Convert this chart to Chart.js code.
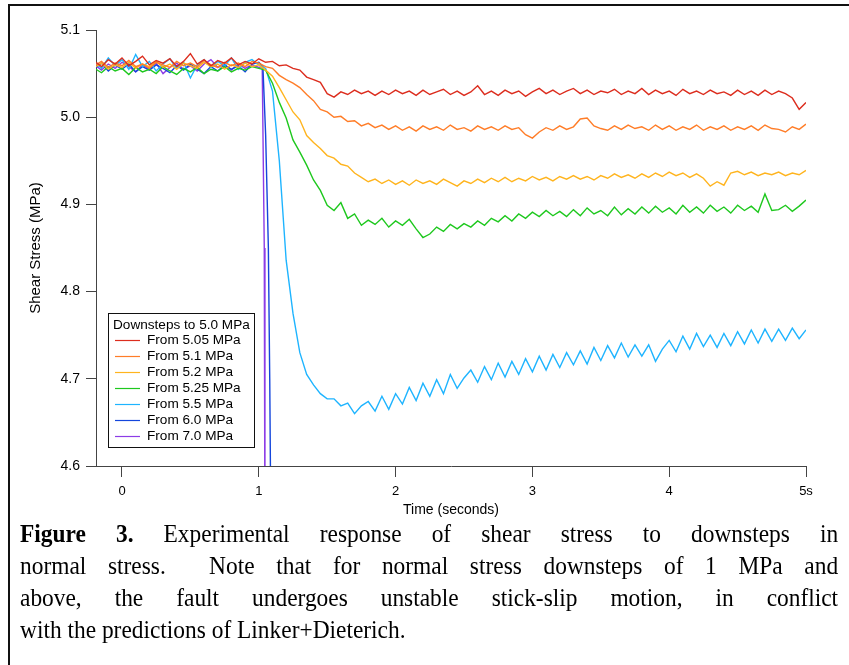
<!DOCTYPE html>
<html>
<head>
<meta charset="utf-8">
<script src="https://cdn.jsdelivr.net/npm/chart.js@4.4.1/dist/chart.umd.min.js"></script>
<style>
  body { margin: 0; background: #fff; width: 849px; height: 665px; overflow: hidden; position: relative; }
  .frame { position: absolute; left: 8px; top: 4px; width: 1000px; height: 1000px;
    border-left: 2px solid #111; border-top: 2px solid #111; }
  #myChart { position: absolute; left: 0; top: 0; }
  .caption { position: absolute; left: 20px; top: 518px; width: 909px;
    transform: scaleX(0.9); transform-origin: 0 0;
    font-family: "Liberation Serif", "Times New Roman", serif; font-size: 26px;
    line-height: 32px; color: #000; }
  .caption div { white-space: nowrap; text-align: justify; text-align-last: justify; }
  .caption div.last { text-align: left; text-align-last: left; }
</style>
</head>
<body>
<div class="frame"></div>
<canvas id="myChart" width="849" height="520"></canvas>
<div class="caption">
  <div><b>Figure 3.</b> Experimental response of shear stress to downsteps in</div>
  <div>normal stress.&nbsp; Note that for normal stress downsteps of 1 MPa and</div>
  <div>above, the fault undergoes unstable stick-slip motion, in conflict</div>
  <div class="last">with the predictions of Linker+Dieterich.</div>
</div>
<script>
// sample times (seconds)
const times = [
  -0.19, -0.15, -0.10, -0.05, 0.00, 0.05, 0.10, 0.15, 0.20, 0.25,
  0.30, 0.35, 0.40, 0.45, 0.50, 0.55, 0.60, 0.65, 0.70, 0.75,
  0.80, 0.85, 0.90, 0.95, 1.00, 1.05, 1.10, 1.15, 1.20, 1.25,
  1.30, 1.35, 1.40, 1.45, 1.50, 1.55, 1.60, 1.65, 1.70, 1.75,
  1.80, 1.85, 1.90, 1.95, 2.00, 2.05, 2.10, 2.15, 2.20, 2.25,
  2.30, 2.35, 2.40, 2.45, 2.50, 2.55, 2.60, 2.65, 2.70, 2.75,
  2.80, 2.85, 2.90, 2.95, 3.00, 3.05, 3.10, 3.15, 3.20, 3.25,
  3.30, 3.35, 3.40, 3.45, 3.50, 3.55, 3.60, 3.65, 3.70, 3.75,
  3.80, 3.85, 3.90, 3.95, 4.00, 4.05, 4.10, 4.15, 4.20, 4.25,
  4.30, 4.35, 4.40, 4.45, 4.50, 4.55, 4.60, 4.65, 4.70, 4.75,
  4.80, 4.85, 4.90, 4.95, 5.00
];

// shear stress (MPa)
const from505 = [
  5.063, 5.058, 5.066, 5.061, 5.068, 5.059, 5.064, 5.070, 5.060, 5.065,
  5.062, 5.067, 5.058, 5.064, 5.073, 5.061, 5.066, 5.059, 5.065, 5.062,
  5.068, 5.060, 5.064, 5.061, 5.067, 5.063, 5.064, 5.059, 5.060, 5.056,
  5.054, 5.046, 5.043, 5.040, 5.027, 5.023, 5.029, 5.026, 5.031, 5.027,
  5.030, 5.025, 5.030, 5.026, 5.031, 5.027, 5.030, 5.025, 5.031, 5.026,
  5.029, 5.032, 5.026, 5.030, 5.025, 5.029, 5.036, 5.026, 5.030, 5.025,
  5.031, 5.027, 5.030, 5.024, 5.029, 5.033, 5.027, 5.031, 5.026, 5.030,
  5.033, 5.027, 5.031, 5.026, 5.030, 5.028, 5.032, 5.026, 5.030, 5.027,
  5.033, 5.026, 5.031, 5.027, 5.030, 5.025, 5.032, 5.027, 5.030, 5.026,
  5.031, 5.027, 5.029, 5.025, 5.031, 5.026, 5.030, 5.025, 5.031, 5.026,
  5.030, 5.027, 5.022, 5.009, 5.017
];
const from51 = [
  5.060, 5.064, 5.057, 5.062, 5.059, 5.065, 5.058, 5.061, 5.056, 5.063,
  5.060, 5.057, 5.064, 5.059, 5.062, 5.058, 5.065, 5.060, 5.057, 5.063,
  5.059, 5.062, 5.058, 5.064, 5.062, 5.058, 5.056, 5.048, 5.043, 5.039,
  5.034, 5.026, 5.019, 5.009, 5.006, 5.000, 5.001, 4.995, 4.996, 4.990,
  4.993, 4.988, 4.991, 4.986, 4.990, 4.985, 4.989, 4.984, 4.990, 4.986,
  4.989, 4.985, 4.991, 4.986, 4.988, 4.984, 4.990, 4.986, 4.989, 4.985,
  4.990, 4.986, 4.988, 4.980, 4.976, 4.983, 4.988, 4.985, 4.990, 4.986,
  4.989, 4.998, 4.999, 4.990, 4.987, 4.985, 4.990, 4.986, 4.991, 4.987,
  4.989, 4.985, 4.991, 4.986, 4.990, 4.985, 4.989, 4.986, 4.991, 4.985,
  4.989, 4.986, 4.990, 4.985, 4.989, 4.986, 4.990, 4.985, 4.991, 4.987,
  4.986, 4.983, 4.989, 4.986, 4.992
];
const from52 = [
  5.058, 5.062, 5.055, 5.060, 5.057, 5.063, 5.056, 5.061, 5.058, 5.064,
  5.057, 5.061, 5.055, 5.062, 5.059, 5.056, 5.063, 5.058, 5.061, 5.055,
  5.060, 5.057, 5.062, 5.058, 5.060, 5.054, 5.047, 5.034, 5.020, 5.006,
  4.997, 4.979, 4.971, 4.964, 4.956, 4.953, 4.946, 4.944, 4.936, 4.931,
  4.926, 4.929, 4.924, 4.928, 4.923, 4.927, 4.922, 4.928, 4.924, 4.927,
  4.923, 4.929, 4.925, 4.921, 4.927, 4.924, 4.929, 4.925, 4.930, 4.926,
  4.931, 4.926, 4.930, 4.927, 4.932, 4.928, 4.931, 4.927, 4.932, 4.929,
  4.933, 4.929, 4.932, 4.928, 4.933, 4.930, 4.935, 4.931, 4.934, 4.930,
  4.935, 4.931, 4.936, 4.932, 4.937, 4.933, 4.936, 4.931, 4.935, 4.930,
  4.921, 4.926, 4.922, 4.936, 4.938, 4.934, 4.937, 4.933, 4.936, 4.934,
  4.937, 4.933, 4.936, 4.934, 4.939
];
const from525 = [
  5.055, 5.051, 5.058, 5.053, 5.056, 5.049, 5.057, 5.052, 5.055, 5.050,
  5.058, 5.053, 5.049, 5.056, 5.052, 5.057, 5.050, 5.055, 5.053, 5.058,
  5.052, 5.056, 5.054, 5.058, 5.056, 5.054, 5.039, 5.017, 4.999, 4.974,
  4.960, 4.945, 4.928, 4.916, 4.899, 4.893, 4.902, 4.884, 4.889, 4.876,
  4.882, 4.877, 4.884, 4.874, 4.881, 4.876, 4.883, 4.872, 4.862, 4.866,
  4.874, 4.869, 4.877, 4.872, 4.878, 4.874, 4.881, 4.876, 4.884, 4.880,
  4.887, 4.881, 4.889, 4.884, 4.891, 4.886, 4.893, 4.887, 4.892, 4.886,
  4.894, 4.887, 4.896, 4.889, 4.893, 4.887, 4.897, 4.888, 4.895, 4.889,
  4.897, 4.890, 4.898, 4.891, 4.896, 4.889, 4.899, 4.891, 4.897, 4.890,
  4.899, 4.892, 4.897, 4.890, 4.899, 4.893, 4.898, 4.891, 4.912, 4.893,
  4.894, 4.899, 4.892, 4.898, 4.905
];
const from55 = [
  5.062, 5.056, 5.068, 5.059, 5.066, 5.055, 5.072, 5.058, 5.064, 5.053,
  5.061, 5.067, 5.056, 5.063, 5.045, 5.060, 5.066, 5.057, 5.064, 5.059,
  5.068, 5.055, 5.063, 5.066, 5.060, 5.056, 5.030, 4.950, 4.836, 4.775,
  4.730, 4.705, 4.693, 4.683, 4.677, 4.677, 4.669, 4.672, 4.660, 4.669,
  4.674, 4.663, 4.680, 4.665, 4.683, 4.671, 4.690, 4.675, 4.695, 4.680,
  4.699, 4.683, 4.705, 4.689, 4.701, 4.710, 4.696, 4.714, 4.699, 4.718,
  4.702, 4.720, 4.705, 4.723, 4.708, 4.726, 4.710, 4.728, 4.713, 4.730,
  4.716, 4.732, 4.717, 4.736, 4.721, 4.738, 4.724, 4.741, 4.725, 4.739,
  4.726, 4.739, 4.720, 4.734, 4.744, 4.731, 4.749, 4.734, 4.752, 4.737,
  4.750, 4.736, 4.752, 4.738, 4.754, 4.740, 4.756, 4.741, 4.757, 4.743,
  4.757, 4.744, 4.758, 4.746, 4.756
];
// the two big downsteps slip off the bottom of the plot just after 1 s
const from60 = [
  5.057, 5.062, 5.053, 5.060, 5.055, 5.061, 5.052, 5.058, 5.054, 5.060,
  5.056, 5.051, 5.059, 5.054, 5.061, 5.055, 5.050, 5.058, 5.053, 5.060,
  5.055, 5.059, 5.052, 5.061, 5.063
];
const from60SlipT = [1.03, 1.05, 1.07, 1.08, 1.09];
const from60SlipV = [5.058, 4.980, 4.850, 4.700, 4.500];
const from70 = [
  5.059, 5.054, 5.061, 5.056, 5.063, 5.058, 5.052, 5.060, 5.055, 5.062,
  5.050, 5.057, 5.062, 5.055, 5.059, 5.053, 5.061, 5.066, 5.057, 5.060,
  5.054, 5.061, 5.056, 5.060, 5.057
];
const from70SlipT = [1.025, 1.04, 1.045];
const from70SlipV = [5.058, 4.850, 4.500];

const seriesNames = ["From 5.05 MPa", "From 5.1 MPa", "From 5.2 MPa", "From 5.25 MPa",
  "From 5.5 MPa", "From 6.0 MPa", "From 7.0 MPa"];
const seriesColors = ["#dc2d1e", "#ff7d28", "#ffb41e", "#1ec81e", "#1eb4ff", "#1446dc", "#8c3ce6"];
const xTicks = [0, 1, 2, 3, 4, 5];
const yTicks = [4.6, 4.7, 4.8, 4.9, 5.0, 5.1];

const toPoints = (ts, vs) => vs.map((v, i) => ({ x: ts[i], y: v }));
const withSlip = (vs, st, sv) => toPoints(times, vs).concat(toPoints(st, sv));

const allSeries = [
  toPoints(times, from505),
  toPoints(times, from51),
  toPoints(times, from52),
  toPoints(times, from525),
  toPoints(times, from55),
  withSlip(from60, from60SlipT, from60SlipV),
  withSlip(from70, from70SlipT, from70SlipV)
];

const FONT = "'Liberation Sans', Arial, Helvetica, sans-serif";

// legend box inside the plot, lower left
const boxLegend = {
  id: "boxLegend",
  afterDraw(chart) {
    const ctx = chart.ctx;
    ctx.save();
    ctx.fillStyle = "#fff";
    ctx.fillRect(108.5, 313.5, 146, 134);
    ctx.strokeStyle = "#111";
    ctx.lineWidth = 1;
    ctx.strokeRect(108.5, 313.5, 146, 134);
    ctx.font = "13.6px " + FONT;
    ctx.fillStyle = "#000";
    ctx.textBaseline = "middle";
    ctx.fillText("Downsteps to 5.0 MPa", 113, 325);
    seriesNames.forEach((name, i) => {
      const y = 340 + i * 16;
      ctx.strokeStyle = seriesColors[i];
      ctx.lineWidth = 1.2;
      ctx.beginPath();
      ctx.moveTo(115, y + 0.5);
      ctx.lineTo(140, y + 0.5);
      ctx.stroke();
      ctx.fillText(name, 147, y);
    });
    ctx.restore();
  }
};

const ctx = document.getElementById("myChart").getContext("2d");
const myChart = new Chart(ctx, {
  type: "line",
  data: {
    datasets: allSeries.map((pts, i) => ({
      label: seriesNames[i],
      data: pts,
      borderColor: seriesColors[i],
      borderWidth: 1.4,
      pointRadius: 0,
      tension: 0,
      fill: false
    }))
  },
  options: {
    responsive: false,
    animation: false,
    devicePixelRatio: 1,
    layout: { padding: { left: 0, top: 30, right: 43, bottom: 0 } },
    plugins: { legend: { display: false }, tooltip: { enabled: false } },
    scales: {
      x: {
        type: "linear",
        min: -0.19,
        max: 5.0,
        afterFit: (s) => { s.height = 54; },
        afterBuildTicks: (s) => { s.ticks = xTicks.map((v) => ({ value: v })); },
        grid: { drawOnChartArea: false, drawTicks: true, tickLength: 11, tickColor: "#444" },
        border: { display: true, color: "#444", width: 1 },
        ticks: {
          color: "#000",
          font: { family: FONT, size: 13 },
          padding: 7,
          maxRotation: 0,
          callback: (v) => (v === 5 ? "5s" : String(v))
        },
        title: {
          display: true,
          text: "Time (seconds)",
          color: "#000",
          font: { family: FONT, size: 14 },
          padding: { top: 0, bottom: 1 }
        }
      },
      y: {
        min: 4.6,
        max: 5.1,
        afterFit: (s) => { s.width = 96; },
        afterBuildTicks: (s) => { s.ticks = yTicks.map((v) => ({ value: v })); },
        grid: { drawOnChartArea: false, drawTicks: true, tickLength: 10, tickColor: "#444" },
        border: { display: true, color: "#444", width: 1 },
        ticks: {
          color: "#000",
          font: { family: FONT, size: 14 },
          padding: 6,
          callback: (v) => v.toFixed(1)
        },
        title: {
          display: true,
          text: "Shear Stress (MPa)",
          color: "#000",
          font: { family: FONT, size: 15 },
          padding: { top: 27, bottom: 0 }
        }
      }
    }
  },
  plugins: [boxLegend]
});
</script>
</body>
</html>
